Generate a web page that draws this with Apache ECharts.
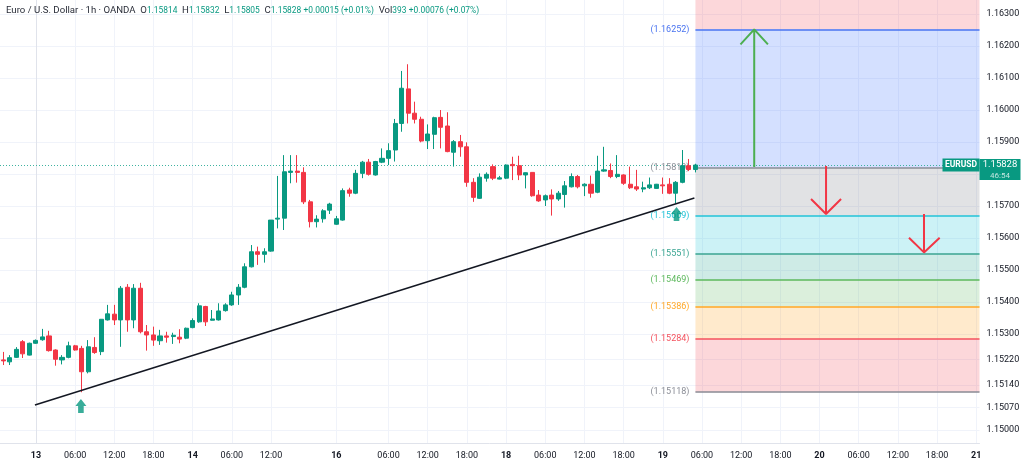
<!DOCTYPE html>
<html><head><meta charset="utf-8">
<script src="https://cdn.jsdelivr.net/npm/echarts@6/dist/echarts.min.js"></script>
<style>html,body{margin:0;padding:0;background:#fff}#c{width:1024px;height:471px}</style>
</head><body><div id="c"></div>
<script>
// ---------- DATA ----------
const firstIndex = -5;           // first hourly slot on the axis
const lastIndex = 144;           // last hourly slot on the axis
// hourly candles [open, close, low, high], first one at slot -5
const candles = [
[1.15219,1.15216,1.15203,1.15244],[1.15213,1.15226,1.15203,1.15234],[1.15227,1.15252,1.15225,1.15259],
[1.15276,1.15238,1.15225,1.15281],[1.15234,1.15271,1.15233,1.15273],[1.15271,1.15280,1.15269,1.15283],
[1.15282,1.15291,1.15279,1.15316],[1.15294,1.15248,1.15245,1.15310],[1.15250,1.15221,1.15201,1.15252],
[1.15219,1.15227,1.15205,1.15234],[1.15227,1.15263,1.15224,1.15276],[1.15263,1.15250,1.15248,1.15266],
[1.15255,1.15182,1.15118,1.15263],[1.15182,1.15260,1.15177,1.15281],[1.15258,1.15242,1.15238,1.15290],
[1.15245,1.15346,1.15234,1.15346],[1.15344,1.15363,1.15342,1.15391],[1.15362,1.15344,1.15328,1.15391],
[1.15344,1.15443,1.15260,1.15450],[1.15446,1.15344,1.15307,1.15456],[1.15344,1.15443,1.15318,1.15456],
[1.15443,1.15307,1.15302,1.15460],[1.15307,1.15297,1.15248,1.15328],[1.15297,1.15281,1.15263,1.15323],
[1.15279,1.15294,1.15266,1.15313],[1.15294,1.15290,1.15273,1.15307],[1.15292,1.15296,1.15269,1.15304],
[1.15290,1.15284,1.15271,1.15315],[1.15287,1.15318,1.15284,1.15320],[1.15320,1.15342,1.15318,1.15349],
[1.15338,1.15388,1.15335,1.15396],[1.15386,1.15338,1.15325,1.15388],[1.15343,1.15347,1.15342,1.15375],
[1.15344,1.15372,1.15342,1.15396],[1.15373,1.15391,1.15370,1.15396],[1.15391,1.15422,1.15388,1.15432],
[1.15422,1.15446,1.15391,1.15456],[1.15446,1.15510,1.15443,1.15521],[1.15510,1.15557,1.15508,1.15578],
[1.15557,1.15549,1.15516,1.15573],[1.15549,1.15557,1.15523,1.15568],[1.15559,1.15656,1.15557,1.15656],
[1.15659,1.15662,1.15630,1.15794],[1.15662,1.15807,1.15625,1.15859],[1.15805,1.15809,1.15771,1.15859],
[1.15809,1.15805,1.15773,1.15859],[1.15805,1.15713,1.15706,1.15821],[1.15713,1.15651,1.15633,1.15719],
[1.15651,1.15659,1.15633,1.15671],[1.15660,1.15685,1.15648,1.15690],[1.15687,1.15706,1.15675,1.15710],
[1.15643,1.15660,1.15641,1.15669],[1.15656,1.15748,1.15654,1.15755],[1.15750,1.15740,1.15729,1.15757],
[1.15740,1.15802,1.15737,1.15813],[1.15802,1.15837,1.15787,1.15841],[1.15837,1.15799,1.15795,1.15847],
[1.15797,1.15839,1.15795,1.15841],[1.15837,1.15849,1.15834,1.15880],[1.15849,1.15873,1.15828,1.15896],
[1.15875,1.15958,1.15839,1.15972],[1.15958,1.16068,1.15932,1.16122],[1.16066,1.15990,1.15958,1.16143],
[1.15990,1.15971,1.15958,1.16026],[1.15971,1.15903,1.15899,1.15979],[1.15904,1.15925,1.15878,1.15955],
[1.15924,1.15976,1.15878,1.15979],[1.15977,1.15946,1.15880,1.16000],[1.15950,1.15870,1.15868,1.15993],
[1.15868,1.15901,1.15823,1.15906],[1.15901,1.15885,1.15854,1.15922],[1.15885,1.15774,1.15760,1.15899],
[1.15774,1.15727,1.15713,1.15787],[1.15724,1.15790,1.15722,1.15802],[1.15787,1.15799,1.15776,1.15805],
[1.15823,1.15787,1.15781,1.15830],[1.15784,1.15788,1.15783,1.15794],[1.15787,1.15828,1.15784,1.15830],
[1.15830,1.15826,1.15781,1.15854],[1.15826,1.15797,1.15781,1.15857],[1.15797,1.15804,1.15755,1.15805],
[1.15805,1.15732,1.15729,1.15805],[1.15734,1.15716,1.15713,1.15750],[1.15719,1.15732,1.15700,1.15736],
[1.15734,1.15722,1.15670,1.15752],[1.15722,1.15740,1.15716,1.15747],[1.15736,1.15763,1.15695,1.15778],
[1.15760,1.15792,1.15758,1.15802],[1.15792,1.15760,1.15755,1.15797],[1.15763,1.15768,1.15731,1.15771],
[1.15768,1.15740,1.15726,1.15795],[1.15743,1.15809,1.15740,1.15857],[1.15809,1.15813,1.15807,1.15885],
[1.15811,1.15792,1.15787,1.15833],[1.15792,1.15799,1.15787,1.15859],[1.15797,1.15771,1.15766,1.15799],
[1.15768,1.15757,1.15753,1.15823],[1.15760,1.15753,1.15747,1.15813],[1.15753,1.15757,1.15743,1.15776],
[1.15757,1.15766,1.15753,1.15789],[1.15755,1.15768,1.15754,1.15769],[1.15766,1.15763,1.15738,1.15789],
[1.15768,1.15740,1.15737,1.15787],[1.15740,1.15774,1.15708,1.15778],[1.15774,1.15826,1.15771,1.15875],
[1.15826,1.15814,1.15809,1.15847],[1.15814,1.15828,1.15805,1.15832]
];
const timeTicks  = [0,6,12,18,24,30,36,46,54,60,66,72,78,84,90,96,102,108,114,120,126,132,138,144];
const timeLabels = ['13','06:00','12:00','18:00','14','06:00','12:00','16','06:00','12:00','18:00','18','06:00','12:00','18:00','19','06:00','12:00','18:00','20','06:00','12:00','18:00','21'];
const dayLabels  = ['13','14','16','18','19','20','21'];
const priceMin = 1.14959375;
const priceMax = 1.1634375;
const priceTicks = [1.15,1.1507,1.1514,1.1522,1.153,1.154,1.155,1.156,1.157,1.158,1.159,1.16,1.161,1.162,1.163];
const fibLevels = [1.15118,1.15284,1.15386,1.15469,1.15551,1.15669,1.15819,1.16252];
const fibStart = 101;
const lastPrice = 1.15828;
const countdown = '46:54';
const symbolName = 'EURUSD';
const trendLine = [[-0.15,1.15078],[100.84,1.15725]];
const arrowUpGreen  = [[110,1.15822],[110,1.16252],[107.9,1.16205],[110,1.16252],[112.1,1.16205]];
const arrowDownRed1 = [[121,1.15825],[121,1.15675],[118.7,1.15722],[121,1.15675],[123.3,1.15722]];
const arrowDownRed2 = [[136,1.15675],[136,1.15555],[133.7,1.15601],[136,1.15555],[138.4,1.15601]];
const signalMarks = [[6.89,1.15075],[98.1,1.15675]];
const headerName = 'Euro / U.S. Dollar · 1h · OANDA';
const headerOHLC = [['O','1.15814'],['H','1.15832'],['L','1.15805'],['C','1.15828']];
const headerChange = '+0.00015 (+0.01%)';
const headerVol = '393';
const headerVolChange = '+0.00076 (+0.07%)';

// ---------- STYLE ----------
const FONT = 'Roboto, "Noto Sans", sans-serif';
const UP = '#089981', DOWN = '#f23645', TXT = '#131722';
const fibLineColors = ['#8a8d96','#f4525e','#ffa726','#5cb85c','#3aa592','#22c3d8','#8a8d96','#4a74f0'];
const fibZoneColors = ['rgba(242,54,69,0.2)','rgba(255,152,0,0.2)','rgba(76,175,80,0.2)','rgba(8,153,129,0.2)',
  'rgba(0,188,212,0.2)','rgba(120,123,134,0.22)','rgba(41,98,255,0.2)','rgba(242,54,69,0.2)'];

const categories = [];
for (let i = firstIndex; i <= lastIndex; i++) categories.push(String(i));

const zoneBounds = fibLevels.concat([priceMax]);
const markAreaData = [];
for (let i = 0; i < zoneBounds.length - 1; i++) {
  markAreaData.push([{xAxis: fibStart, yAxis: zoneBounds[i], itemStyle: {color: fibZoneColors[i]}},
                     {xAxis: lastIndex + 0.5, yAxis: zoneBounds[i + 1]}]);
}
const fibLineData = fibLevels.map((l, i) => [
  {coord: [fibStart, l], lineStyle: {color: fibLineColors[i], width: 1.5, type: 'solid'},
   label: {show: true, position: 'start', distance: 6, formatter: '(' + l.toFixed(5) + ')',
           color: fibLineColors[i], fontSize: 9, fontFamily: FONT}},
  {coord: [lastIndex + 0.5, l]}
]);
const priceLineData = [
  {yAxis: lastPrice, lineStyle: {color: '#3fb3a0', type: [1, 2], width: 1},
   label: {show: true, position: 'end', distance: 0,
     formatter: '{s| }\n{a|' + lastPrice.toFixed(5) + '}\n{b|' + countdown + '}',
     rich: {
       s: {height: 9, lineHeight: 9, fontSize: 1},
       a: {backgroundColor: UP, color: '#ffffff', width: 41, height: 12, lineHeight: 12, align: 'center', fontSize: 9.5, fontFamily: FONT},
       b: {backgroundColor: UP, color: 'rgba(255,255,255,0.75)', width: 41, height: 9, lineHeight: 9, align: 'center', fontSize: 8, fontFamily: FONT}
     }}},
  {yAxis: lastPrice, lineStyle: {color: 'rgba(0,0,0,0)', type: 'solid', width: 1},
   label: {show: true, position: 'insideEnd', distance: 0, formatter: '{e|' + symbolName + '}',
     rich: {e: {backgroundColor: UP, color: '#ffffff', width: 37, height: 13, lineHeight: 13, align: 'center', fontSize: 8.5, fontWeight: 'bold', fontFamily: FONT}}}}
];

let headerText = '{n|' + headerName + '}  ';
headerOHLC.forEach((p, i) => { headerText += '{n|' + p[0] + '}{v|' + p[1] + '}' + (i < 3 ? '  ' : ' '); });
headerText += '{v|' + headerChange + '}  {n|Vol}{v|' + headerVol + '} {v|' + headerVolChange + '}';

const arrowSeries = (data, color) => ({
  type: 'line', xAxisIndex: 1, yAxisIndex: 0, data: data, showSymbol: false, symbol: 'none',
  lineStyle: {color: color, width: 2}, silent: true, z: 6
});

const chart = echarts.init(document.getElementById('c'), null, {renderer: 'canvas'});
chart.setOption({
  animation: false,
  backgroundColor: '#ffffff',
  title: {
    left: 6, top: 6, padding: 0, text: headerText,
    textStyle: {fontSize: 9.6, fontFamily: FONT, fontWeight: 'normal', color: TXT,
      rich: {n: {color: '#2a2e39', fontSize: 9.6, fontFamily: FONT}, v: {color: UP, fontSize: 8.4, fontFamily: FONT}}}
  },
  grid: {left: 0, right: 44.5, top: 0, bottom: 28, containLabel: false, outerBoundsMode: 'none'},
  xAxis: [
    {type: 'category', data: categories, boundaryGap: true, show: false},
    {type: 'value', min: firstIndex - 0.5, max: lastIndex + 0.5, position: 'bottom',
     axisLine: {show: true, lineStyle: {color: '#e0e3eb'}},
     axisTick: {show: false, customValues: timeTicks},
     splitLine: {show: true, lineStyle: {color: '#f0f3fa', width: 1}},
     axisLabel: {customValues: timeTicks, margin: 8, fontSize: 9, color: TXT, fontFamily: FONT,
       formatter: v => { const t = timeLabels[timeTicks.indexOf(Math.round(v))]; return dayLabels.includes(t) ? '{d|' + t + '}' : t; },
       rich: {d: {fontWeight: 'bold', fontSize: 9, color: TXT, fontFamily: FONT}}}}
  ],
  yAxis: {
    type: 'value', position: 'right', min: priceMin, max: priceMax, scale: true,
    axisLine: {show: true, lineStyle: {color: '#e0e3eb'}},
    axisTick: {show: false, customValues: priceTicks},
    splitLine: {show: true, lineStyle: {color: '#f0f3fa', width: 1}},
    axisLabel: {customValues: priceTicks, margin: 7, fontSize: 9, color: TXT, fontFamily: FONT,
      formatter: v => v.toFixed(5)}
  },
  series: [
    {
      type: 'line', name: 'fib', xAxisIndex: 1, yAxisIndex: 0, data: trendLine, showSymbol: false, symbol: 'none',
      lineStyle: {color: '#131722', width: 1.5}, silent: true, z: 4,
      markArea: {silent: true, data: markAreaData, z: 1},
      markLine: {silent: true, precision: 5, symbol: ['none', 'none'], data: fibLineData.concat(priceLineData), z: 2, animation: false}
    },
    {
      type: 'candlestick', name: 'EURUSD', xAxisIndex: 0, yAxisIndex: 0, data: candles, barWidth: '70%', z: 3,
      itemStyle: {color: UP, color0: DOWN, borderColor: UP, borderColor0: DOWN, borderWidth: 1}
    },
    arrowSeries(arrowUpGreen, '#4caf50'),
    arrowSeries(arrowDownRed1, DOWN),
    arrowSeries(arrowDownRed2, DOWN),
    {
      type: 'scatter', xAxisIndex: 1, yAxisIndex: 0, data: signalMarks, silent: true, z: 7,
      symbol: 'path://M5.5,0 L11,7 L8.3,7 L8.3,14 L2.7,14 L2.7,7 L0,7 Z', symbolSize: [11, 14],
      itemStyle: {color: UP}
    }
  ]
});
</script></body></html>
